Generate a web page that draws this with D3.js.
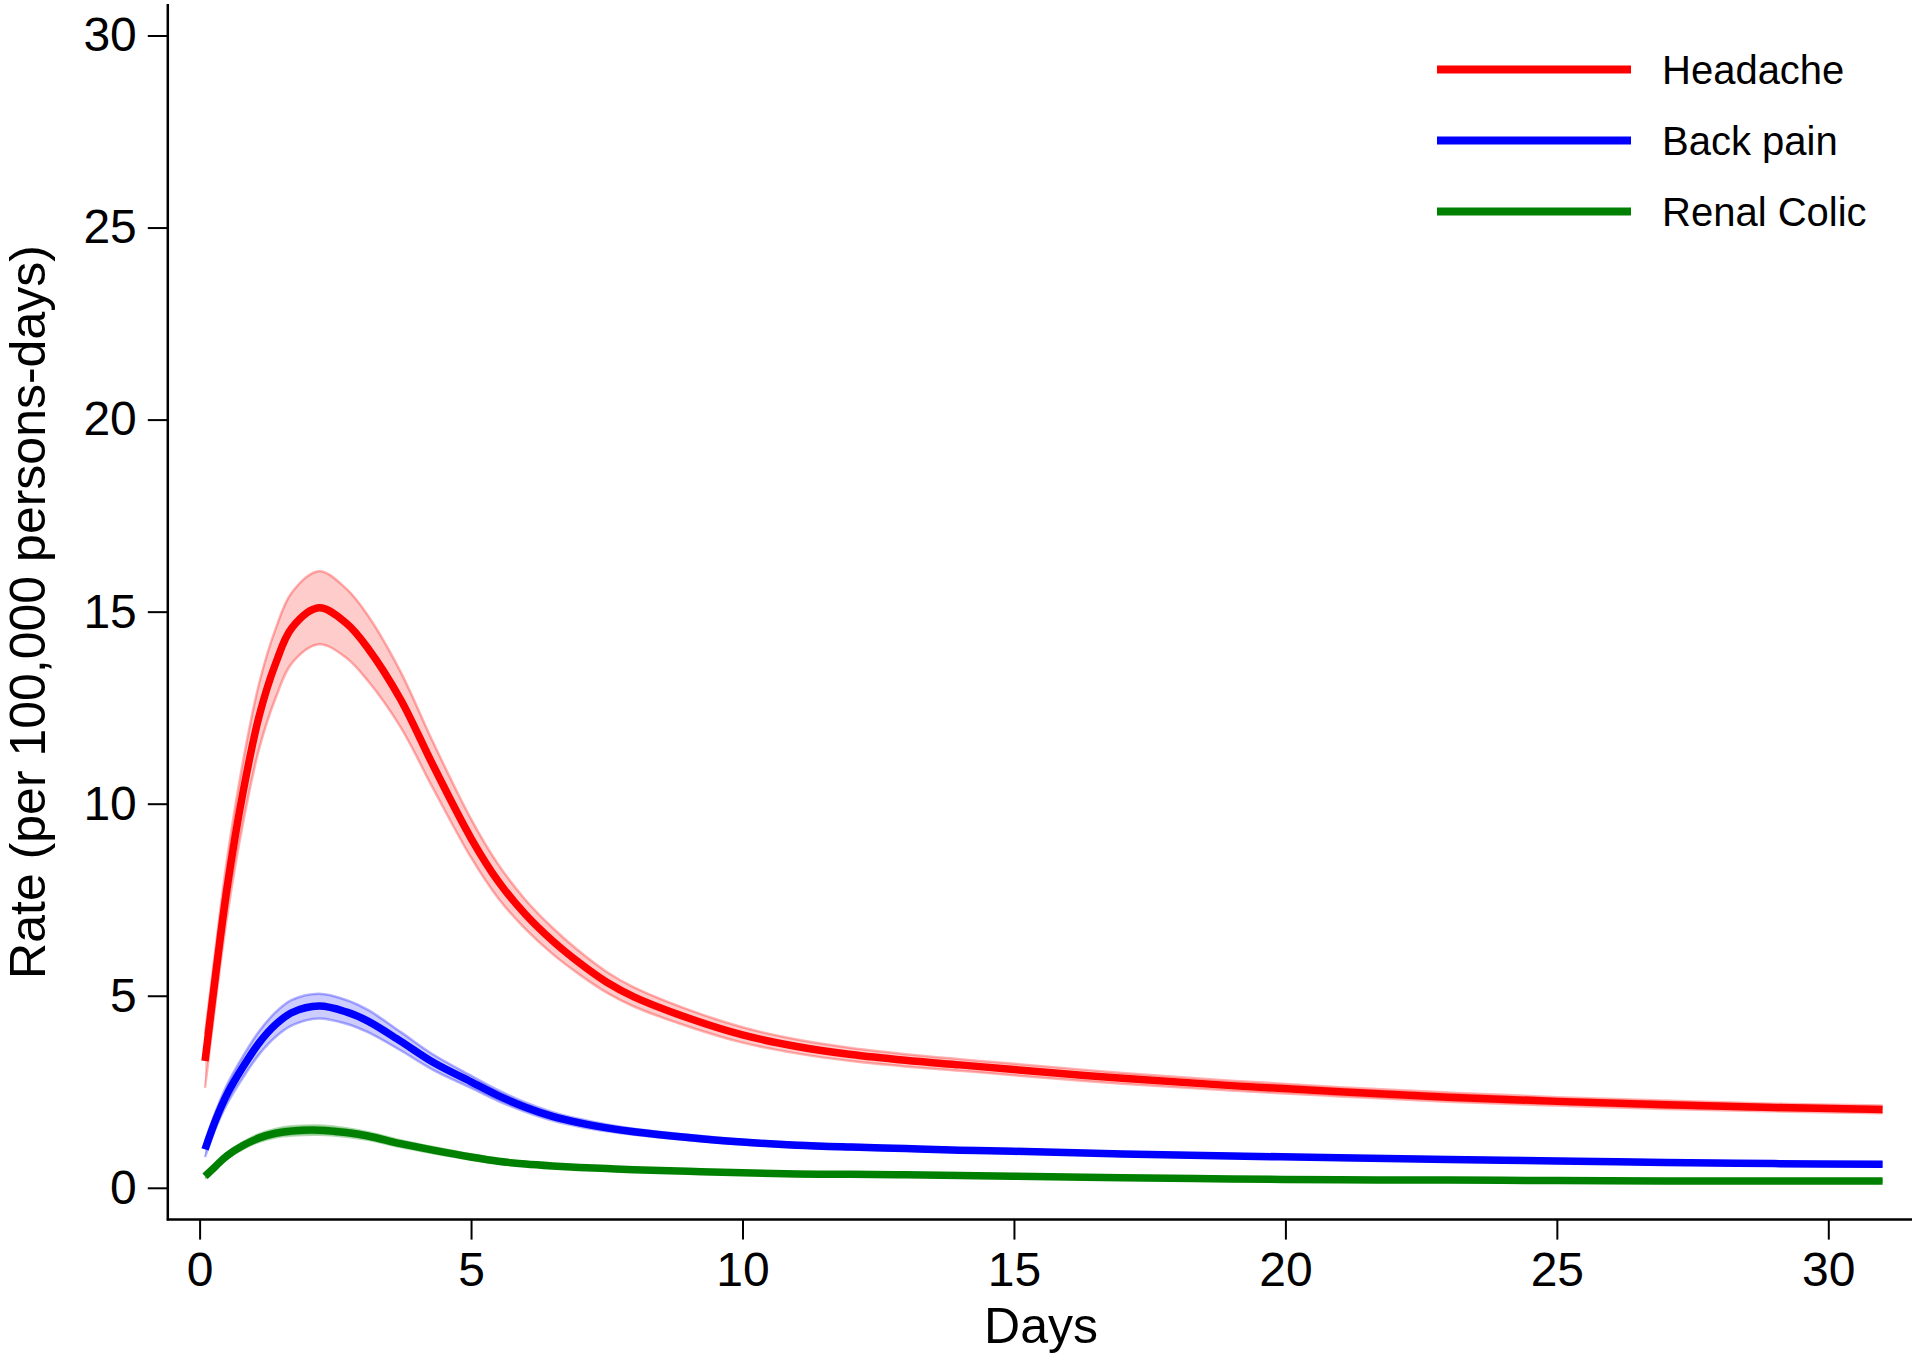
<!DOCTYPE html>
<html>
<head>
<meta charset="utf-8">
<script src="https://cdn.jsdelivr.net/npm/d3@7"></script>
<style>
  body { margin: 0; background: #fff; }
  svg text { font-family: "Liberation Sans", Arial, sans-serif; fill: #000; }
</style>
</head>
<body>
<svg id="chart" width="1920" height="1358"></svg>
<script>
// Rate over days, with confidence bands

var days = [0.1, 0.3, 0.5, 0.8, 1.1, 1.4, 1.7, 2.2, 2.7, 3.1, 3.7, 4.3, 5, 5.5, 6, 6.5, 7, 7.5, 8, 9, 10, 11, 12, 13, 14, 15, 17, 19, 21, 23, 25, 27, 29, 31];

var headache   = [3.3, 5.6, 7.75, 10.3, 12.3, 13.65, 14.58, 15.1, 14.7, 14.05, 12.72, 11.0, 9.1, 7.98, 7.12, 6.43, 5.85, 5.35, 4.97, 4.42, 3.98, 3.68, 3.47, 3.32, 3.2, 3.08, 2.85, 2.66, 2.5, 2.36, 2.25, 2.16, 2.09, 2.04];
var headacheLo = [2.6, 4.9, 7.0, 9.5, 11.45, 12.75, 13.66, 14.15, 13.8, 13.2, 12.0, 10.4, 8.6, 7.54, 6.74, 6.09, 5.55, 5.08, 4.72, 4.2, 3.78, 3.5, 3.3, 3.16, 3.05, 2.93, 2.71, 2.53, 2.38, 2.24, 2.14, 2.05, 1.99, 1.94];
var headacheHi = [4.0, 6.3, 8.5, 11.1, 13.15, 14.55, 15.5, 16.05, 15.6, 14.9, 13.44, 11.6, 9.6, 8.42, 7.5, 6.77, 6.15, 5.62, 5.22, 4.64, 4.18, 3.86, 3.64, 3.48, 3.35, 3.23, 2.99, 2.79, 2.62, 2.48, 2.36, 2.27, 2.19, 2.14];

var backPain   = [1.0, 1.78, 2.42, 3.15, 3.78, 4.25, 4.56, 4.73, 4.58, 4.34, 3.82, 3.27, 2.76, 2.4, 2.1, 1.86, 1.69, 1.56, 1.46, 1.31, 1.19, 1.11, 1.06, 1.02, 0.98, 0.95, 0.88, 0.83, 0.78, 0.74, 0.7, 0.66, 0.63, 0.61];
var backPainLo = [0.8, 1.56, 2.17, 2.87, 3.48, 3.93, 4.23, 4.41, 4.27, 4.05, 3.58, 3.07, 2.6, 2.26, 1.98, 1.75, 1.59, 1.47, 1.38, 1.24, 1.13, 1.05, 1.0, 0.97, 0.93, 0.9, 0.83, 0.78, 0.73, 0.69, 0.65, 0.61, 0.58, 0.56];
var backPainHi = [1.2, 2.0, 2.67, 3.43, 4.08, 4.57, 4.89, 5.05, 4.89, 4.63, 4.06, 3.47, 2.92, 2.54, 2.22, 1.97, 1.79, 1.65, 1.54, 1.38, 1.25, 1.17, 1.12, 1.07, 1.03, 1.0, 0.93, 0.88, 0.83, 0.79, 0.75, 0.71, 0.68, 0.66];

var renalColic   = [0.3, 0.57, 0.83, 1.1, 1.3, 1.42, 1.48, 1.5, 1.44, 1.35, 1.15, 0.98, 0.8, 0.69, 0.62, 0.57, 0.53, 0.5, 0.47, 0.43, 0.39, 0.36, 0.35, 0.34, 0.32, 0.3, 0.26, 0.23, 0.21, 0.2, 0.19, 0.18, 0.18, 0.18];
var renalColicLo = [0.24, 0.5, 0.75, 1.01, 1.2, 1.31, 1.36, 1.38, 1.33, 1.25, 1.06, 0.9, 0.73, 0.63, 0.57, 0.52, 0.49, 0.46, 0.43, 0.4, 0.36, 0.33, 0.32, 0.31, 0.29, 0.27, 0.23, 0.2, 0.18, 0.17, 0.16, 0.15, 0.15, 0.15];
var renalColicHi = [0.36, 0.64, 0.91, 1.19, 1.4, 1.53, 1.6, 1.62, 1.55, 1.45, 1.24, 1.06, 0.87, 0.75, 0.67, 0.62, 0.57, 0.54, 0.51, 0.46, 0.42, 0.39, 0.38, 0.37, 0.35, 0.33, 0.29, 0.26, 0.24, 0.23, 0.22, 0.21, 0.21, 0.21];

var seriesNames = ["Headache", "Back pain", "Renal Colic"];
var seriesColors = ["#ff0000", "#0000ff", "#008000"];
var xTicks = [0, 5, 10, 15, 20, 25, 30];
var yTicks = [0, 5, 10, 15, 20, 25, 30];

var series = [
  { name: seriesNames[0], color: seriesColors[0], mid: headache, lo: headacheLo, hi: headacheHi },
  { name: seriesNames[1], color: seriesColors[1], mid: backPain, lo: backPainLo, hi: backPainHi },
  { name: seriesNames[2], color: seriesColors[2], mid: renalColic, lo: renalColicLo, hi: renalColicHi }
];

var svg = d3.select("#chart");

var x = d3.scaleLinear().domain([0, 30]).range([199.6, 1828.3]);
var y = d3.scaleLinear().domain([0, 30]).range([1187.8, 35.5]);

var axisLeftX = 167.8;
var axisBottomY = 1219.6;
var smooth = d3.curveCatmullRom.alpha(0.5);

// bands
series.forEach(function (s) {
  var rows = days.map(function (d, i) {
    return { d: d, lo: s.lo[i], hi: s.hi[i] };
  });
  var area = d3.area()
    .x(function (r) { return x(r.d); })
    .y0(function (r) { return y(r.lo); })
    .y1(function (r) { return y(r.hi); })
    .curve(smooth);
  svg.append("path")
    .attr("d", area(rows))
    .attr("fill", s.color)
    .attr("fill-opacity", 0.2)
    .attr("stroke", "none");

  ["lo", "hi"].forEach(function (k) {
    var edge = d3.line()
      .x(function (r) { return x(r.d); })
      .y(function (r) { return y(r[k]); })
      .curve(smooth);
    svg.append("path")
      .attr("d", edge(rows))
      .attr("fill", "none")
      .attr("stroke", s.color)
      .attr("stroke-opacity", 0.3)
      .attr("stroke-width", 2.5);
  });
});

// lines
series.forEach(function (s) {
  var line = d3.line()
    .x(function (d, i) { return x(days[i]); })
    .y(function (d) { return y(d); })
    .curve(smooth);
  svg.append("path")
    .attr("d", line(s.mid))
    .attr("fill", "none")
    .attr("stroke", s.color)
    .attr("stroke-width", 7.5);
});

// y axis
var yAxis = svg.append("g")
  .attr("transform", "translate(" + axisLeftX + ",0)")
  .call(d3.axisLeft(y).tickValues(yTicks).tickSize(20).tickPadding(11));
yAxis.select(".domain").remove();
yAxis.selectAll("line").attr("stroke", "#000").attr("stroke-width", 2);
yAxis.selectAll("text")
  .attr("font-size", 48)
  .style("font-family", "'Liberation Sans', Arial, sans-serif");

// x axis
var xAxis = svg.append("g")
  .attr("transform", "translate(0," + axisBottomY + ")")
  .call(d3.axisBottom(x).tickValues(xTicks).tickSize(20).tickPadding(12));
xAxis.select(".domain").remove();
xAxis.selectAll("line").attr("stroke", "#000").attr("stroke-width", 2);
xAxis.selectAll("text")
  .attr("font-size", 48)
  .style("font-family", "'Liberation Sans', Arial, sans-serif");

// axis lines
svg.append("line")
  .attr("x1", axisLeftX).attr("x2", axisLeftX)
  .attr("y1", 4).attr("y2", axisBottomY + 1)
  .attr("stroke", "#000").attr("stroke-width", 2.5);
svg.append("line")
  .attr("x1", axisLeftX - 1).attr("x2", 1912)
  .attr("y1", axisBottomY).attr("y2", axisBottomY)
  .attr("stroke", "#000").attr("stroke-width", 2.5);

// axis titles
svg.append("text")
  .attr("x", 1041)
  .attr("y", 1343)
  .attr("text-anchor", "middle")
  .attr("font-size", 50)
  .text("Days");

svg.append("text")
  .attr("transform", "translate(45,612) rotate(-90)")
  .attr("text-anchor", "middle")
  .attr("font-size", 50)
  .text("Rate (per 100,000 persons-days)");

// legend
var legend = svg.append("g");
series.forEach(function (s, i) {
  var ly = 69.5 + i * 71;
  legend.append("line")
    .attr("x1", 1437).attr("x2", 1631)
    .attr("y1", ly).attr("y2", ly)
    .attr("stroke", s.color)
    .attr("stroke-width", 8);
  legend.append("text")
    .attr("x", 1662)
    .attr("y", ly)
    .attr("dy", "0.36em")
    .attr("font-size", 40)
    .text(s.name);
});
</script>
</body>
</html>
